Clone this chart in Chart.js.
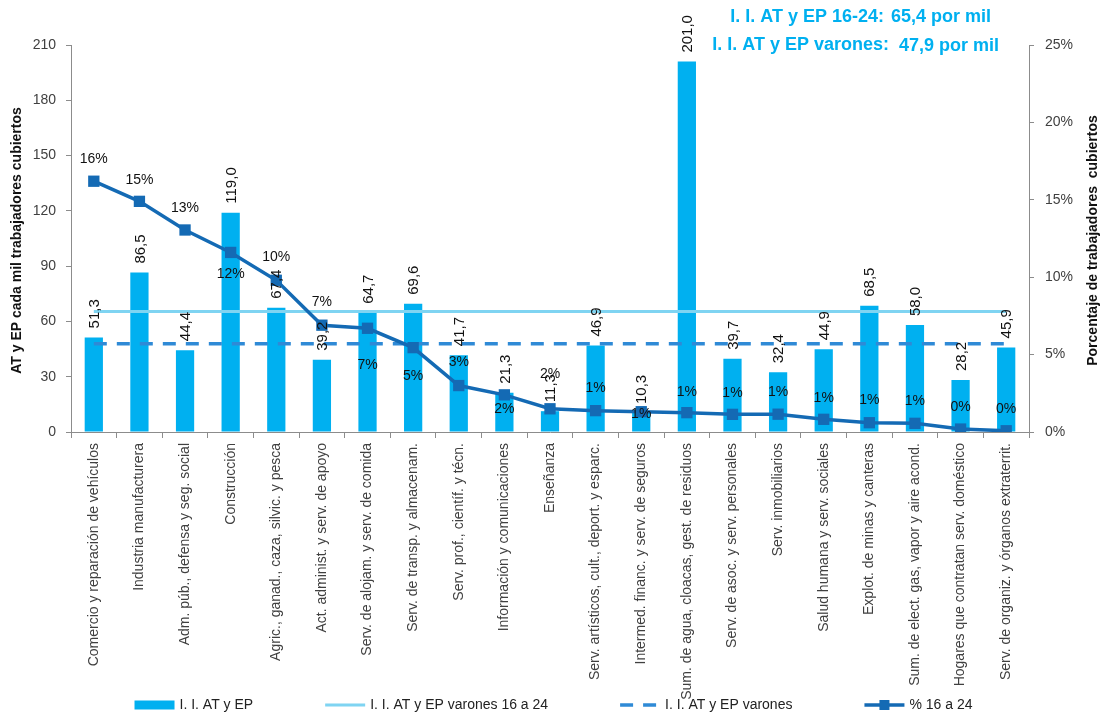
<!DOCTYPE html>
<html>
<head>
<meta charset="utf-8">
<script src="https://cdn.jsdelivr.net/npm/chart.js@4.4.0/dist/chart.umd.min.js"></script>
<style>
  html, body { margin: 0; padding: 0; background: #fff; }
</style>
</head>
<body>
<canvas id="chart" width="1107" height="718"></canvas>
<script>
const sectors = [
    'Comercio y reparación de vehículos',
    'Industria manufacturera',
    'Adm. púb., defensa y seg. social',
    'Construcción',
    'Agric., ganad., caza, silvic. y pesca',
    'Act. administ. y serv. de apoyo',
    'Serv. de alojam. y serv. de comida',
    'Serv. de transp. y almacenam.',
    'Serv. prof., científ. y técn.',
    'Información y comunicaciones',
    'Enseñanza',
    'Serv. artísticos, cult., deport. y esparc.',
    'Intermed. financ. y serv. de seguros',
    'Sum. de agua, cloacas, gest. de residuos',
    'Serv. de asoc. y serv. personales',
    'Serv. inmobiliarios',
    'Salud humana y serv. sociales',
    'Explot. de minas y canteras',
    'Sum. de elect. gas, vapor y aire acond.',
    'Hogares que contratan serv. doméstico',
    'Serv. de organiz. y órganos extraterrit.',
];

// I. I. AT y EP (por mil trabajadores cubiertos)
const incidence = [51.3, 86.5, 44.4, 119.0, 67.4, 39.2, 64.7, 69.6, 41.7, 21.3, 11.3,
                   46.9, 10.3, 201.0, 39.7, 32.4, 44.9, 68.5, 58.0, 28.2, 45.9];

// % de trabajadores cubiertos de 16 a 24
const pct16to24 = [16.2, 14.9, 13.05, 11.6, 9.8, 6.9, 6.7, 5.45, 3.0, 2.4, 1.5,
                   1.38, 1.31, 1.25, 1.14, 1.15, 0.82, 0.6, 0.56, 0.19, 0.08];

// reference lines
const youthRate = [65.4, 65.4, 65.4, 65.4, 65.4, 65.4, 65.4, 65.4, 65.4, 65.4, 65.4,
                   65.4, 65.4, 65.4, 65.4, 65.4, 65.4, 65.4, 65.4, 65.4, 65.4];
const maleRate = [47.9, 47.9, 47.9, 47.9, 47.9, 47.9, 47.9, 47.9, 47.9, 47.9, 47.9,
                  47.9, 47.9, 47.9, 47.9, 47.9, 47.9, 47.9, 47.9, 47.9, 47.9];

const seriesNames = ['I. I. AT y EP', 'I. I. AT y EP varones 16 a 24', 'I. I. AT y EP varones', '% 16 a 24'];
const noteLines = [
    ['I. I. AT y EP 16-24:', '65,4 por mil'],
    ['I. I. AT y EP varones:', '47,9 por mil'],
];

const leftTitle = 'AT y EP cada mil trabajadores cubiertos';
const rightTitle = 'Porcentaje de trabajadores  cubiertos';

// where each % label sits relative to its point (px)
const pctLabelShift = [-22, -21, -22, 22, -23, -23, 37, 29, -23, 14, -35,
                       -22, 2, -21, -21, -22, -21, -23, -22, -22, -22];

const FONT = '"Liberation Sans", Arial, sans-serif';
const colors = {
    bar: '#00B0F0',
    youth: '#7FD4F2',
    male: '#2F8AD6',
    pct: '#146AB4',
    axis: '#8C8C8C',
    tick: '#404040',
    note: '#00B0F0',
};

const fmt = v => v.toFixed(1).replace('.', ',');

const labelsPlugin = {
    id: 'valueLabels',
    afterDatasetsDraw(chart) {
        const ctx = chart.ctx;
        ctx.save();
        ctx.fillStyle = '#111';

        // bar values, rotated
        ctx.font = '15px ' + FONT;
        ctx.textAlign = 'left';
        ctx.textBaseline = 'middle';
        chart.getDatasetMeta(0).data.forEach((bar, i) => {
            ctx.save();
            ctx.translate(bar.x + 1, bar.y - 9);
            ctx.rotate(-Math.PI / 2);
            ctx.fillText(fmt(incidence[i]), 0, 0);
            ctx.restore();
        });

        // percentages
        ctx.font = '14px ' + FONT;
        ctx.textAlign = 'center';
        chart.getDatasetMeta(3).data.forEach((pt, i) => {
            ctx.fillText(Math.round(pct16to24[i]) + '%', pt.x, pt.y + pctLabelShift[i]);
        });
        ctx.restore();
    },
    afterDraw(chart) {
        const ctx = chart.ctx;
        const area = chart.chartArea;
        ctx.save();

        // axis titles
        ctx.fillStyle = '#111';
        ctx.font = 'bold 14px ' + FONT;
        ctx.textAlign = 'center';
        ctx.textBaseline = 'middle';
        [[17, leftTitle], [1093, rightTitle]].forEach(([x, text]) => {
            ctx.save();
            ctx.translate(x, (area.top + area.bottom) / 2 + 2);
            ctx.rotate(-Math.PI / 2);
            ctx.fillText(text, 0, 0);
            ctx.restore();
        });

        // note at the top
        ctx.fillStyle = colors.note;
        ctx.font = 'bold 18px ' + FONT;
        ctx.textBaseline = 'middle';
        noteLines.forEach(([left, right], i) => {
            const y = 17 + i * 28;
            ctx.textAlign = 'right';
            ctx.fillText(left, 884 + i * 5, y);
            ctx.textAlign = 'left';
            ctx.fillText(right, 891 + i * 8, y + i * 1);
        });

        // legend
        const legendY = 705;
        const markW = 40;
        const gap = 72;
        ctx.font = '14px ' + FONT;
        ctx.textBaseline = 'middle';
        ctx.textAlign = 'left';
        const widths = seriesNames.map(n => markW + 5 + ctx.measureText(n).width);
        const total = widths.reduce((a, b) => a + b, 0) + gap * (widths.length - 1);
        let x = (chart.width - total) / 2;
        seriesNames.forEach((name, i) => {
            ctx.save();
            if (i === 0) {
                ctx.fillStyle = colors.bar;
                ctx.fillRect(x, legendY - 4.5, markW, 9);
            } else {
                const ds = chart.data.datasets[i];
                ctx.strokeStyle = ds.borderColor;
                ctx.lineWidth = ds.borderWidth;
                ctx.setLineDash(ds.borderDash || []);
                ctx.beginPath();
                ctx.moveTo(x, legendY);
                ctx.lineTo(x + markW, legendY);
                ctx.stroke();
                if (i === 3) {
                    ctx.fillStyle = ds.borderColor;
                    ctx.fillRect(x + markW / 2 - 5, legendY - 5, 10, 10);
                }
            }
            ctx.restore();
            ctx.fillStyle = '#222';
            ctx.fillText(name, x + markW + 5, legendY);
            x += widths[i] + gap;
        });
        ctx.restore();
    }
};

const chart = new Chart(document.getElementById('chart'), {
    type: 'bar',
    data: {
        labels: sectors,
        datasets: [
            {
                label: seriesNames[0],
                data: incidence,
                yAxisID: 'y',
                backgroundColor: colors.bar,
                barPercentage: 0.4,
                categoryPercentage: 1,
                order: 4,
            },
            {
                type: 'line',
                label: seriesNames[1],
                data: youthRate,
                yAxisID: 'y',
                borderColor: colors.youth,
                borderWidth: 3,
                pointRadius: 0,
                order: 3,
            },
            {
                type: 'line',
                label: seriesNames[2],
                data: maleRate,
                yAxisID: 'y',
                borderColor: colors.male,
                borderWidth: 3.5,
                borderDash: [13, 10],
                pointRadius: 0,
                order: 2,
            },
            {
                type: 'line',
                label: seriesNames[3],
                data: pct16to24,
                yAxisID: 'y1',
                borderColor: colors.pct,
                backgroundColor: colors.pct,
                borderWidth: 3.5,
                pointStyle: 'rect',
                pointRadius: 8,
                pointBorderWidth: 0,
                order: 1,
            },
        ]
    },
    options: {
        responsive: false,
        animation: false,
        layout: { padding: { top: 45, left: 0, right: 0, bottom: 0 } },
        plugins: {
            legend: { display: false },
            tooltip: { enabled: false },
        },
        scales: {
            x: {
                offset: true,
                grid: { drawOnChartArea: false, drawTicks: true, tickLength: 6, color: colors.axis, offset: true },
                border: { color: colors.axis },
                ticks: {
                    autoSkip: false, maxRotation: 90, minRotation: 90, padding: 5,
                    color: colors.tick, font: { family: FONT, size: 14 }
                },
                afterFit: s => { s.height = 286; }
            },
            y: {
                position: 'left',
                min: 0, max: 210,
                ticks: { stepSize: 30, padding: 10, color: colors.tick, font: { family: FONT, size: 14 } },
                grid: { drawOnChartArea: false, tickLength: 5, color: colors.axis },
                border: { color: colors.axis },
                afterFit: s => { s.width = 71; }
            },
            y1: {
                position: 'right',
                min: 0, max: 25,
                ticks: {
                    stepSize: 5, padding: 11, color: colors.tick, font: { family: FONT, size: 14 },
                    callback: v => v + '%'
                },
                grid: { drawOnChartArea: false, tickLength: 5, color: colors.axis },
                border: { color: colors.axis },
                afterFit: s => { s.width = 78; }
            }
        }
    },
    plugins: [labelsPlugin]
});
</script>
</body>
</html>
